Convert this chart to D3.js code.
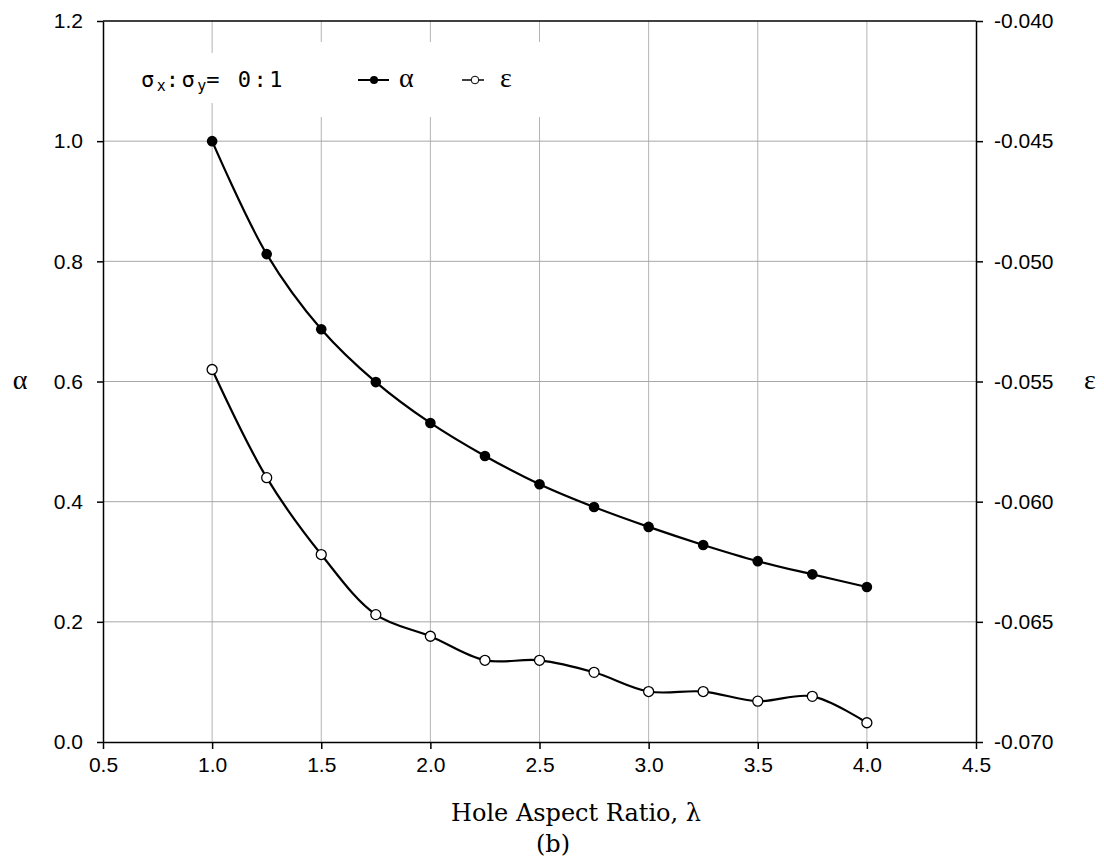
<!DOCTYPE html>
<html>
<head>
<meta charset="utf-8">
<script src="https://cdn.jsdelivr.net/npm/d3@7"></script>
<style>
  body { margin: 0; background: #fff; }
  svg { display: block; }
</style>
</head>
<body>
<div id="chart"></div>
<script>
var W = 1104, H = 861;

// data
var ratio = [1.0, 1.25, 1.5, 1.75, 2.0, 2.25, 2.5, 2.75, 3.0, 3.25, 3.5, 3.75, 4.0];
var alphaVals = [1.000, 0.812, 0.687, 0.599, 0.531, 0.476, 0.429, 0.391, 0.358, 0.328, 0.301, 0.279, 0.258];
var epsVals = [-0.0545, -0.0590, -0.0622, -0.0647, -0.0656, -0.0666, -0.0666, -0.0671, -0.0679, -0.0679, -0.0683, -0.0681, -0.0692];

var xTicks = [0.5, 1.0, 1.5, 2.0, 2.5, 3.0, 3.5, 4.0, 4.5];
var yLeftTicks = [0, 0.2, 0.4, 0.6, 0.8, 1.0, 1.2];
var yRightTicks = [-0.070, -0.065, -0.060, -0.055, -0.050, -0.045, -0.040];

var pLeft = 103, pRight = 976, pTop = 21, pBottom = 742;

var x = d3.scaleLinear().domain([0.5, 4.5]).range([pLeft, pRight]);
var yL = d3.scaleLinear().domain([0, 1.2]).range([pBottom, pTop]);
var yR = d3.scaleLinear().domain([-0.070, -0.040]).range([pBottom, pTop]);

var svg = d3.select("#chart").append("svg")
    .attr("width", W)
    .attr("height", H);

// grid
svg.append("g").selectAll("line")
    .data(xTicks.slice(1, -1))
  .enter().append("line")
    .attr("x1", function(d){ return x(d); })
    .attr("x2", function(d){ return x(d); })
    .attr("y1", pTop).attr("y2", pBottom)
    .attr("stroke", "#b4b4b4").attr("stroke-width", 1);

svg.append("g").selectAll("line")
    .data(yLeftTicks.slice(1, -1))
  .enter().append("line")
    .attr("x1", pLeft).attr("x2", pRight)
    .attr("y1", function(d){ return yL(d); })
    .attr("y2", function(d){ return yL(d); })
    .attr("stroke", "#a8a8a8").attr("stroke-width", 1);

// white boxes behind the legend texts
svg.append("rect").attr("x", 125).attr("y", 53).attr("width", 180).attr("height", 50).attr("fill", "#fff");
svg.append("rect").attr("x", 305).attr("y", 42).attr("width", 255).attr("height", 75).attr("fill", "#fff");

// axes
var fmt1 = function(d){ return d.toFixed(1); };
var fmt3 = function(d){ return d.toFixed(3); };

var axB = svg.append("g")
    .attr("transform", "translate(0," + pBottom + ")")
    .call(d3.axisBottom(x).tickValues(xTicks).tickFormat(fmt1).tickSizeInner(7).tickSizeOuter(0).tickPadding(8));
var axL = svg.append("g")
    .attr("transform", "translate(" + pLeft + ",0)")
    .call(d3.axisLeft(yL).tickValues(yLeftTicks).tickFormat(fmt1).tickSizeInner(6).tickSizeOuter(0).tickPadding(14));
var axR = svg.append("g")
    .attr("transform", "translate(" + pRight + ",0)")
    .call(d3.axisRight(yR).tickValues(yRightTicks).tickFormat(fmt3).tickSizeInner(7).tickSizeOuter(0).tickPadding(11));

[axB, axL, axR].forEach(function(a){
    a.attr("font-family", "Liberation Sans, Arial, sans-serif").attr("font-size", 21);
    a.selectAll("path.domain").attr("stroke", "#000").attr("stroke-width", 1.5);
    a.selectAll(".tick line").attr("stroke", "#000").attr("stroke-width", 1.5);
    a.selectAll("text").attr("fill", "#000");
});

// top border
svg.append("line")
    .attr("x1", pLeft).attr("x2", pRight)
    .attr("y1", pTop).attr("y2", pTop)
    .attr("stroke", "#000").attr("stroke-width", 1.5);

// series
var line = d3.line().curve(d3.curveCatmullRom.alpha(0.5));

svg.append("path")
    .attr("d", line(ratio.map(function(r, i){ return [x(r), yL(alphaVals[i])]; })))
    .attr("fill", "none").attr("stroke", "#000").attr("stroke-width", 2.2);

svg.append("path")
    .attr("d", line(ratio.map(function(r, i){ return [x(r), yR(epsVals[i])]; })))
    .attr("fill", "none").attr("stroke", "#000").attr("stroke-width", 2.2);

svg.append("g").selectAll("circle")
    .data(ratio)
  .enter().append("circle")
    .attr("cx", function(d){ return x(d); })
    .attr("cy", function(d, i){ return yL(alphaVals[i]); })
    .attr("r", 5.3)
    .attr("fill", "#000");

svg.append("g").selectAll("circle")
    .data(ratio)
  .enter().append("circle")
    .attr("cx", function(d){ return x(d); })
    .attr("cy", function(d, i){ return yR(epsVals[i]); })
    .attr("r", 5)
    .attr("fill", "#fff").attr("stroke", "#000").attr("stroke-width", 1.3);

// legend
var lt = svg.append("text")
    .attr("x", 141).attr("y", 87)
    .attr("font-family", "DejaVu Sans Mono, monospace")
    .attr("font-size", "22px")
    .attr("letter-spacing", "2.5px")
    .attr("fill", "#000");
lt.append("tspan").text("σ");
lt.append("tspan").attr("font-size", "15px").attr("dy", 4).attr("letter-spacing", "0px").text("x");
lt.append("tspan").attr("dy", -4).text(":σ");
lt.append("tspan").attr("font-size", "15px").attr("dy", 4).attr("letter-spacing", "0px").text("y");
lt.append("tspan").attr("dy", -4).text("= 0:1");

svg.append("line").attr("x1", 358).attr("x2", 389).attr("y1", 80).attr("y2", 80)
    .attr("stroke", "#000").attr("stroke-width", 2);
svg.append("circle").attr("cx", 374).attr("cy", 80).attr("r", 4).attr("fill", "#000");
svg.append("text").attr("x", 399).attr("y", 87)
    .attr("font-family", "Liberation Serif, Times New Roman, serif")
    .attr("font-size", "28px").text("α");

svg.append("line").attr("x1", 462).attr("x2", 484).attr("y1", 80).attr("y2", 80)
    .attr("stroke", "#000").attr("stroke-width", 1.5);
svg.append("circle").attr("cx", 475).attr("cy", 80).attr("r", 3.8)
    .attr("fill", "#fff").attr("stroke", "#000").attr("stroke-width", 1);
svg.append("text").attr("x", 500).attr("y", 87)
    .attr("font-family", "Liberation Serif, Times New Roman, serif")
    .attr("font-size", "28px").text("ε");

// axis titles
var serif = "DejaVu Serif, Liberation Serif, serif";
svg.append("text").attr("x", 20).attr("y", 389).attr("text-anchor", "middle")
    .attr("font-family", "Liberation Serif, serif").attr("font-size", "28px").text("α");
svg.append("text").attr("x", 1090).attr("y", 389).attr("text-anchor", "middle")
    .attr("font-family", "Liberation Serif, serif").attr("font-size", "28px").text("ε");

svg.append("text").attr("x", 576).attr("y", 821).attr("text-anchor", "middle")
    .attr("font-family", serif).attr("font-size", "24px").text("Hole Aspect Ratio, λ");
svg.append("text").attr("x", 553).attr("y", 852).attr("text-anchor", "middle")
    .attr("font-family", serif).attr("font-size", "24px").text("(b)");
</script>
</body>
</html>
